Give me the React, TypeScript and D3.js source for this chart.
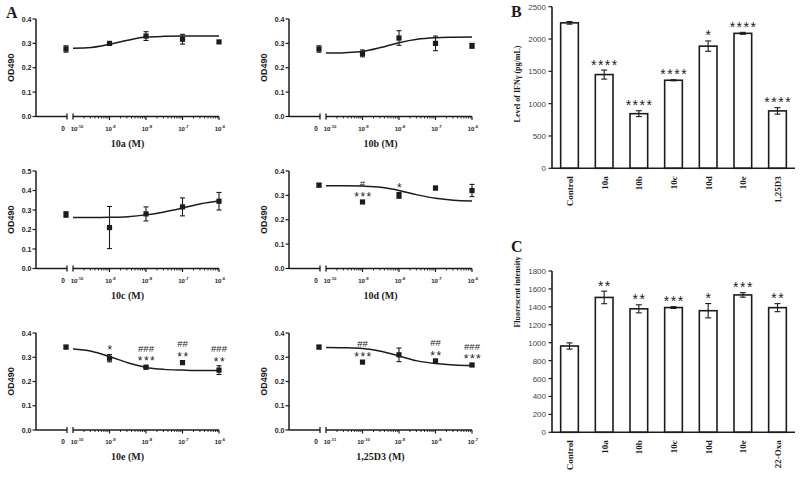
import React from 'react';
import * as d3 from 'd3';

// ---------------- Panel A : dose-response (OD490) ----------------
const tickExpA = [-10, -9, -8, -7, -6];
const tickExpD3 = [-11, -10, -9, -8, -7];
const fitExpA = [-10, -9.5, -9, -8.5, -8, -7.5, -7, -6.5, -6];
const fitExpD3 = [-11, -10.5, -10, -9.5, -9, -8.5, -8, -7.5, -7];

// values: [vehicle "0", then one per dose decade]
const od10a = [0.277, 0.3, 0.33, 0.317, 0.306];
const se10a = [0.013, 0.004, 0.018, 0.02, 0.0];
const fit10a = [0.28, 0.283, 0.296, 0.313, 0.326, 0.329, 0.33, 0.33, 0.33];

const od10b = [0.277, 0.259, 0.322, 0.3, 0.29];
const se10b = [0.013, 0.014, 0.03, 0.03, 0.01];
const fit10b = [0.26, 0.262, 0.267, 0.283, 0.303, 0.317, 0.323, 0.325, 0.326];

const od10c = [0.277, 0.21, 0.28, 0.316, 0.345];
const se10c = [0.014, 0.108, 0.036, 0.046, 0.045];
const fit10c = [0.262, 0.262, 0.263, 0.266, 0.275, 0.29, 0.31, 0.332, 0.346];

const od10d = [0.342, 0.273, 0.3, 0.33, 0.32];
const se10d = [0.007, 0.004, 0.012, 0.007, 0.025];
const fit10d = [0.34, 0.34, 0.338, 0.333, 0.32, 0.302, 0.288, 0.28, 0.277];

const od10e = [0.342, 0.296, 0.259, 0.278, 0.247];
const se10e = [0.007, 0.015, 0.007, 0.008, 0.018];
const fit10e = [0.334, 0.325, 0.303, 0.277, 0.258, 0.25, 0.247, 0.245, 0.245];

const odD3 = [0.342, 0.28, 0.31, 0.285, 0.268];
const seD3 = [0.007, 0.004, 0.028, 0.005, 0.006];
const fitD3 = [0.34, 0.339, 0.336, 0.325, 0.305, 0.285, 0.274, 0.268, 0.266];

const sigNone = [['', ''], ['', ''], ['', ''], ['', '']];
const sig10d = [['#', '***'], ['', '*'], ['', ''], ['', '']];
const sig10e = [['', '*'], ['###', '***'], ['##', '**'], ['###', '**']];
const sigD3 = [['##', '***'], ['', ''], ['##', '**'], ['###', '***']];

// ---------------- Panel B : IFN-gamma ----------------
const catsB = ['Control', '10a', '10b', '10c', '10d', '10e', '1,25D3'];
const ifng = [2250, 1450, 845, 1362, 1890, 2088, 888];
const ifngErr = [20, 70, 45, 8, 80, 15, 50];
const sigB = ['', '****', '****', '****', '*', '****', '****'];
const ticksB = [0, 500, 1000, 1500, 2000, 2500];

// ---------------- Panel C : fluorescence ----------------
const catsC = ['Control', '10a', '10b', '10c', '10d', '10e', '22-Oxa'];
const fluo = [963, 1505, 1378, 1392, 1357, 1533, 1391];
const fluoErr = [35, 70, 45, 10, 80, 25, 45];
const sigC = ['', '**', '**', '***', '*', '***', '**'];
const ticksC = [0, 200, 400, 600, 800, 1000, 1200, 1400, 1600, 1800];

const SERIF = "'Liberation Serif','Times New Roman',serif";
const SANS = "'Liberation Sans',Arial,sans-serif";
const INK = '#1c1c1c';

function Pow10({ x, y, exp, fs }: any) {
  return (
    <text x={x} y={y} textAnchor="middle" fontFamily={SANS} fontWeight="bold" fontSize={fs} fill={INK}>
      10
      <tspan dy={-fs * 0.45} fontSize={fs * 0.7}>
        {'-' + Math.abs(exp)}
      </tspan>
    </text>
  );
}

function DosePlot(p: any) {
  const { left, y0, yTop, yMax, ticks, fitExp, od, se, fit, sig, title } = p;
  const zeroX = left + 30;
  const x = d3
    .scaleLog()
    .domain([10 ** ticks[0], 10 ** ticks[ticks.length - 1]])
    .range([left + 37, left + 183]);
  const y = d3.scaleLinear().domain([0, yMax]).range([y0, yTop]);
  const yTicks = d3.range(0, Math.round(yMax * 10) + 1).map((i) => i / 10);
  const minor: number[] = [];
  ticks.slice(0, -1).forEach((e: number) => {
    for (let k = 2; k <= 9; k++) minor.push(k * 10 ** e);
  });
  const line = d3
    .line<[number, number]>()
    .x((d) => x(10 ** d[0]))
    .y((d) => y(d[1]))
    .curve(d3.curveMonotoneX);
  const fitPts: [number, number][] = fitExp.map((e: number, i: number) => [e, fit[i]]);
  const pts = od.map((v: number, i: number) => ({
    cx: i === 0 ? zeroX : x(10 ** ticks[i]),
    v,
    e: se[i],
    s: i === 0 ? ['', ''] : sig[i - 1],
  }));
  const x0 = x(10 ** ticks[0]);
  const x1 = x(10 ** ticks[ticks.length - 1]);
  return (
    <g>
      {/* y axis */}
      <line x1={left} x2={left} y1={y0} y2={y(yMax)} stroke={INK} strokeWidth={1.5} />
      {yTicks.map((t: number) => (
        <g key={t}>
          <line x1={left - 3.5} x2={left} y1={y(t)} y2={y(t)} stroke={INK} strokeWidth={1.2} />
          <text x={left - 4.5} y={y(t) + 2.5} textAnchor="end" fontFamily={SANS} fontWeight="bold" fontSize={7} fill={INK}>
            {t.toFixed(1)}
          </text>
        </g>
      ))}
      <text
        transform={`translate(${left - 22},${(y0 + yTop) / 2}) rotate(-90)`}
        textAnchor="middle"
        fontFamily={SANS}
        fontWeight="bold"
        fontSize={9}
        fill={INK}
      >
        OD490
      </text>
      {/* x axis, broken */}
      <line x1={left} x2={zeroX + 1} y1={y0} y2={y0} stroke={INK} strokeWidth={1.5} />
      <line x1={zeroX + 1} x2={zeroX + 1} y1={y0 - 3} y2={y0 + 3} stroke={INK} strokeWidth={1.3} />
      <line x1={x0} x2={x1} y1={y0} y2={y0} stroke={INK} strokeWidth={1.5} />
      <line x1={x0} x2={x0} y1={y0 - 3} y2={y0 + 3} stroke={INK} strokeWidth={1.3} />
      {ticks.slice(1).map((e: number) => (
        <line key={e} x1={x(10 ** e)} x2={x(10 ** e)} y1={y0} y2={y0 + 3.5} stroke={INK} strokeWidth={1.2} />
      ))}
      {minor.map((m) => (
        <line key={m} x1={x(m)} x2={x(m)} y1={y0} y2={y0 + 2} stroke={INK} strokeWidth={0.9} />
      ))}
      <text x={zeroX - 3} y={y0 + 14} textAnchor="middle" fontFamily={SANS} fontWeight="bold" fontSize={6.5} fill={INK}>
        0
      </text>
      {ticks.map((e: number, i: number) => (
        <Pow10 key={e} x={x(10 ** e) + (i === 0 ? 4 : 1)} y={y0 + 14} exp={e} fs={6} />
      ))}
      <text x={left + 91.5} y={y0 + 30} textAnchor="middle" fontFamily={SERIF} fontWeight="bold" fontSize={10} fill={INK}>
        {title}
      </text>
      {/* fitted curve */}
      <path d={line(fitPts) || ''} fill="none" stroke={INK} strokeWidth={1.5} />
      {/* points */}
      {pts.map((d: any, i: number) => {
        const top = y(d.v + d.e);
        const starCy = top - 7;
        const hashCy = d.s[1] ? starCy - 10 : starCy;
        return (
          <g key={i}>
            {d.e > 0 && (
              <g stroke={INK} strokeWidth={1.1}>
                <line x1={d.cx} x2={d.cx} y1={y(d.v - d.e)} y2={top} />
                <line x1={d.cx - 2.5} x2={d.cx + 2.5} y1={top} y2={top} />
                <line x1={d.cx - 2.5} x2={d.cx + 2.5} y1={y(d.v - d.e)} y2={y(d.v - d.e)} />
              </g>
            )}
            <rect x={d.cx - 2.6} y={y(d.v) - 2.6} width={5.2} height={5.2} fill={INK} />
            {d.s[1] && (
              <text x={d.cx + 1} y={starCy + 6.9} textAnchor="middle" fontFamily={SANS} fontSize={12} letterSpacing={1.5} fill={INK}>
                {d.s[1]}
              </text>
            )}
            {d.s[0] && (
              <text x={d.cx} y={hashCy + 3.3} textAnchor="middle" fontFamily={SANS} fontSize={9.5} fill={INK}>
                {d.s[0]}
              </text>
            )}
          </g>
        );
      })}
    </g>
  );
}

function BarPanel(p: any) {
  const { cats, vals, errs, sig, ticks, y0, yTop, title, titleCy, letter, letterY } = p;
  const axisX = 552;
  const x = d3.scaleBand().domain(cats).range([axisX, 795]).paddingInner(0.49).paddingOuter(0.25);
  const yMax = ticks[ticks.length - 1];
  const y = d3.scaleLinear().domain([0, yMax]).range([y0, yTop]);
  const bw = x.bandwidth();
  return (
    <g>
      <text x={511} y={letterY} fontFamily={SERIF} fontWeight="bold" fontSize={16} fill={INK}>
        {letter}
      </text>
      <text
        transform={`translate(${520},${titleCy}) rotate(-90)`}
        textAnchor="middle"
        fontFamily={SERIF}
        fontWeight="bold"
        fontSize={8}
        fill={INK}
      >
        {title}
      </text>
      {cats.map((c: string, i: number) => {
        const bx = x(c) as number;
        const cx = bx + bw / 2;
        const top = y(vals[i] + errs[i]);
        return (
          <g key={c}>
            <rect x={bx} y={y(vals[i])} width={bw} height={y0 - y(vals[i])} fill="#fff" stroke={INK} strokeWidth={1.6} />
            <g stroke={INK} strokeWidth={1.1}>
              <line x1={cx} x2={cx} y1={y(vals[i] - errs[i])} y2={top} />
              <line x1={cx - 3} x2={cx + 3} y1={top} y2={top} />
              <line x1={cx - 3} x2={cx + 3} y1={y(vals[i] - errs[i])} y2={y(vals[i] - errs[i])} />
            </g>
            {sig[i] && (
              <text x={cx + 0.7} y={top - 8.5 + 8} textAnchor="middle" fontFamily={SANS} fontSize={14} letterSpacing={1.5} fill={INK}>
                {sig[i]}
              </text>
            )}
            <text
              transform={`translate(${cx + 3.5},${y0 + 8}) rotate(-90)`}
              textAnchor="end"
              fontFamily={SERIF}
              fontWeight="bold"
              fontSize={9}
              fill={INK}
            >
              {c}
            </text>
          </g>
        );
      })}
      <line x1={axisX} x2={795} y1={y0} y2={y0} stroke={INK} strokeWidth={1.6} />
      <line x1={axisX} x2={axisX} y1={y0} y2={yTop} stroke={INK} strokeWidth={1.6} />
      {ticks.map((t: number) => (
        <g key={t}>
          <line x1={axisX - 3.5} x2={axisX} y1={y(t)} y2={y(t)} stroke={INK} strokeWidth={1.2} />
          <text x={axisX - 6} y={y(t) + 3} textAnchor="end" fontFamily={SANS} fontSize={8} fill="#444">
            {t}
          </text>
        </g>
      ))}
    </g>
  );
}

export default function App() {
  const colL = 36;
  const colR = 289;
  return (
    <svg width={800} height={477} style={{ position: 'absolute', left: 0, top: 0, background: '#fff' }}>
      <rect width={800} height={477} fill="#fff" />
      <text x={6} y={18} fontFamily={SERIF} fontWeight="bold" fontSize={16} fill={INK}>
        A
      </text>
      <DosePlot left={colL} y0={116.5} yTop={19} yMax={0.4} ticks={tickExpA} fitExp={fitExpA} od={od10a} se={se10a} fit={fit10a} sig={sigNone} title="10a (M)" />
      <DosePlot left={colR} y0={116.5} yTop={19} yMax={0.4} ticks={tickExpA} fitExp={fitExpA} od={od10b} se={se10b} fit={fit10b} sig={sigNone} title="10b (M)" />
      <DosePlot left={colL} y0={268.5} yTop={171} yMax={0.5} ticks={tickExpA} fitExp={fitExpA} od={od10c} se={se10c} fit={fit10c} sig={sigNone} title="10c (M)" />
      <DosePlot left={colR} y0={268.5} yTop={171} yMax={0.4} ticks={tickExpA} fitExp={fitExpA} od={od10d} se={se10d} fit={fit10d} sig={sig10d} title="10d (M)" />
      <DosePlot left={colL} y0={430} yTop={333} yMax={0.4} ticks={tickExpA} fitExp={fitExpA} od={od10e} se={se10e} fit={fit10e} sig={sig10e} title="10e (M)" />
      <DosePlot left={colR} y0={430} yTop={333} yMax={0.4} ticks={tickExpD3} fitExp={fitExpD3} od={odD3} se={seD3} fit={fitD3} sig={sigD3} title="1,25D3 (M)" />
      <BarPanel cats={catsB} vals={ifng} errs={ifngErr} sig={sigB} ticks={ticksB} y0={168.3} yTop={6.7} title="Level of IFNγ (pg/mL)" titleCy={84} letter="B" letterY={17} />
      <BarPanel cats={catsC} vals={fluo} errs={fluoErr} sig={sigC} ticks={ticksC} y0={432.3} yTop={271} title="Fluorescent intensity" titleCy={292} letter="C" letterY={252} />
    </svg>
  );
}
